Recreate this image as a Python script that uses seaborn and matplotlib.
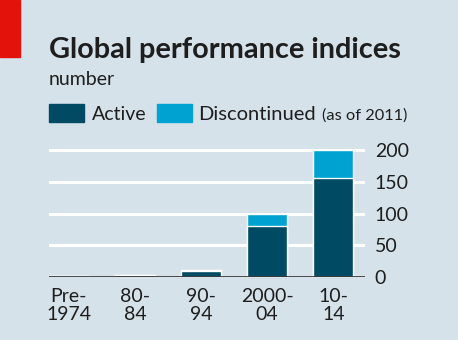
import matplotlib
matplotlib.use("Agg")
import matplotlib.pyplot as plt
import seaborn as sns
import pandas as pd
from matplotlib.patches import Rectangle

categories = ["Pre-\n1974", "80-\n84", "90-\n94", "2000-\n04", "10-\n14"]
active = [1.5, 3, 10, 80, 156]
discontinued = [0, 0, 1, 19, 44]
yticks = [0, 50, 100, 150, 200]

BG = "#d6e2ea"
DARK = "#004a63"
LIGHT = "#00a2d1"
TXT = "#1e1e1e"

sns.set_theme(style="white")
plt.rcParams["font.family"] = ["Lato", "DejaVu Sans"]

df = pd.DataFrame({"cat": categories, "active": active,
                   "total": [a + d for a, d in zip(active, discontinued)]})

fig = plt.figure(figsize=(4.58, 3.40), dpi=100, facecolor=BG)
ax = fig.add_axes([49/458, 1 - 277/340, (365 - 49)/458, (277 - 144)/340])
ax.set_facecolor(BG)

sns.barplot(data=df, x="cat", y="total", color=LIGHT, width=0.606,
            saturation=1, ax=ax, zorder=3)
sns.barplot(data=df, x="cat", y="active", color=DARK, width=0.606,
            saturation=1, ax=ax, zorder=4)

ax.set_xlim(-0.30, 4.48)
ax.set_ylim(0, 210)
ax.set_yticks(yticks)
ax.yaxis.tick_right()
ax.grid(axis="y", color="white", linewidth=2.2, zorder=1)
ax.set_axisbelow(True)
for s in ax.spines.values():
    s.set_visible(False)
ax.axhline(0, color="#3a3a3a", linewidth=1.3, zorder=5)
ax.tick_params(axis="y", length=0, labelsize=14, labelcolor=TXT, pad=7)
ax.tick_params(axis="x", length=0, labelsize=14, labelcolor=TXT, pad=8)
for lbl in ax.get_xticklabels():
    lbl.set_linespacing(1.05)
ax.set_xlabel("")
ax.set_ylabel("")

# red tag
fig.patches.append(Rectangle((0, 1 - 57/340), 20/458, 57/340,
                             transform=fig.transFigure, color="#e3120b"))

fig.text(49/458, 1 - 58/340, "Global performance indices", fontsize=20.8,
         fontweight="bold", color=TXT, va="baseline")
fig.text(49/458, 1 - 85/340, "number", fontsize=14, color=TXT, va="baseline")

# legend
fig.patches.append(Rectangle((49/458, 1 - 122/340), 35/458, 18/340,
                             transform=fig.transFigure, color=DARK))
fig.text(92/458, 1 - 120/340, "Active", fontsize=14, color=TXT, va="baseline")
fig.patches.append(Rectangle((157/458, 1 - 122/340), 35/458, 18/340,
                             transform=fig.transFigure, color=LIGHT))
fig.text(198/458, 1 - 120/340, "Discontinued", fontsize=14.5, color=TXT, va="baseline")
fig.text(322/458, 1 - 120/340, "(as of 2011)", fontsize=11.8, color=TXT, va="baseline")

fig.savefig("out.png", dpi=100, facecolor=BG)
